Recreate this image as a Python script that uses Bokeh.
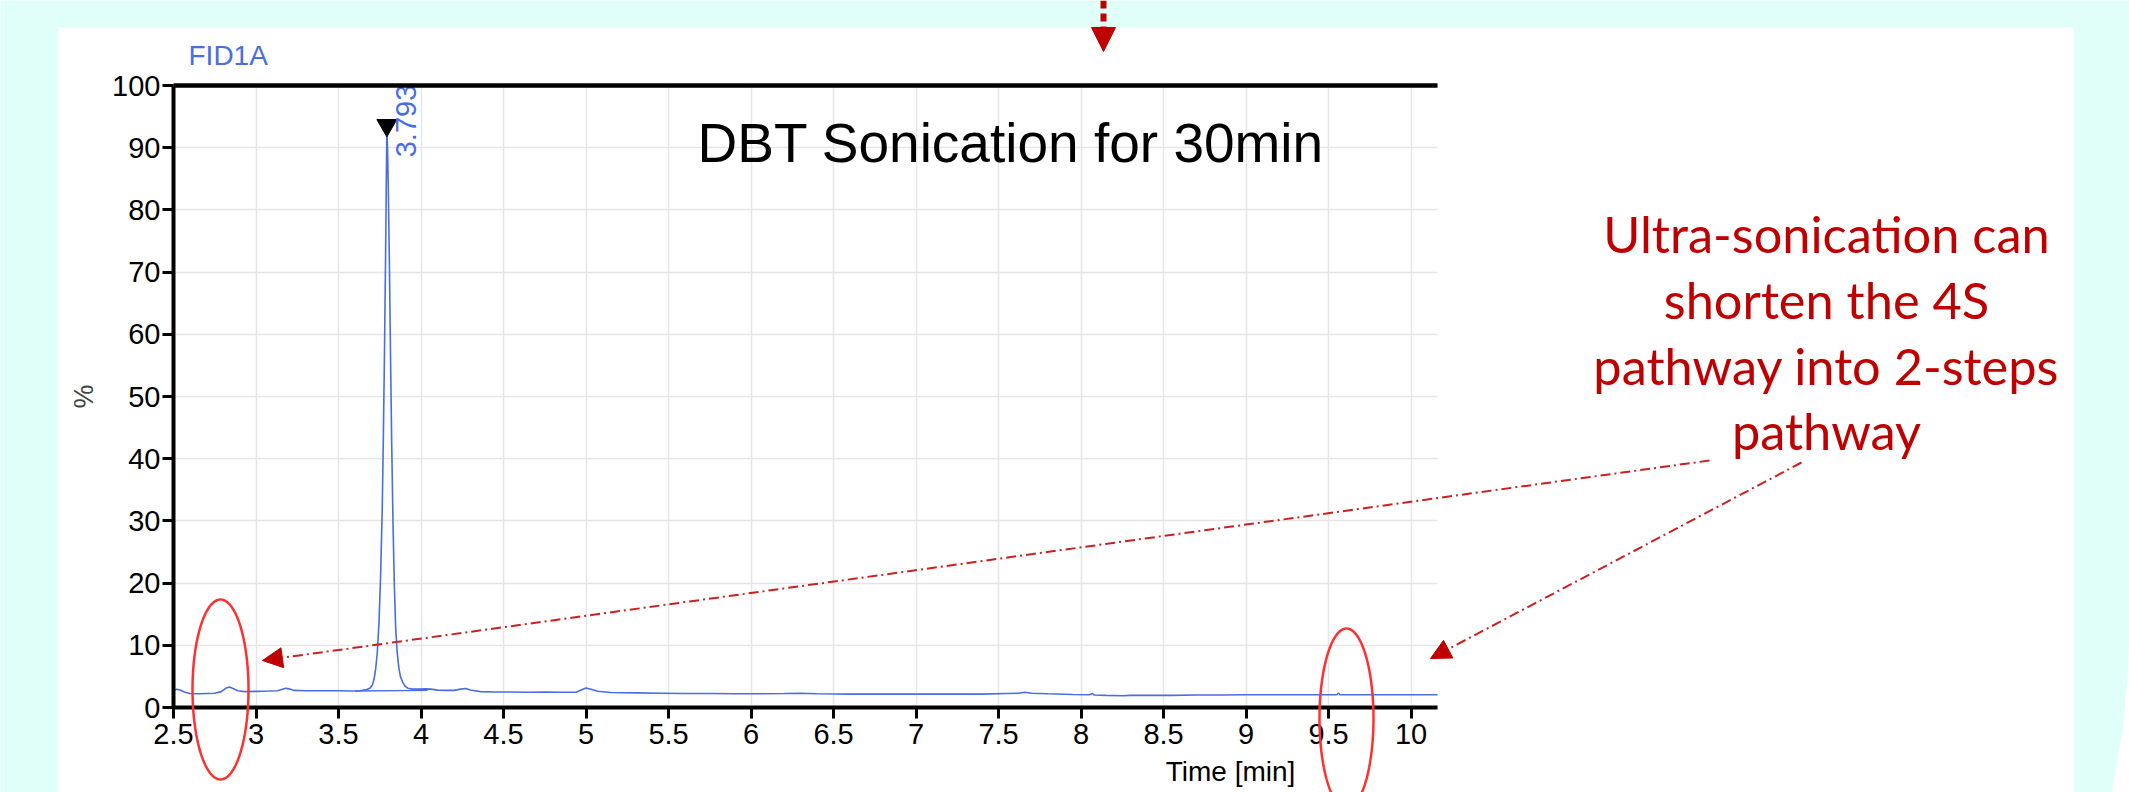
import numpy as np
from bokeh.plotting import figure
from bokeh.models import (Label, Arrow, NormalHead, BoxAnnotation, PolyAnnotation,
                          LinearAxis, Grid, Range1d, FixedTicker, NumeralTickFormatter)
from bokeh.core.properties import value
from bokeh.embed import file_html
from bokeh.resources import INLINE

# ---------------- data ----------------
time_min = [2.50, 2.52, 2.54, 2.57, 2.60, 2.65, 2.70, 2.75, 2.79, 2.82, 2.84, 2.86, 2.89, 2.93,
            3.00, 3.08, 3.13, 3.16, 3.18, 3.20, 3.23, 3.30, 3.40, 3.50, 3.58, 3.63, 3.67, 3.69,
            3.705, 3.715, 3.725, 3.735, 3.745, 3.755, 3.765, 3.772, 3.779, 3.785, 3.789, 3.793,
            3.797, 3.802, 3.808, 3.815, 3.822, 3.830, 3.838, 3.846, 3.855, 3.865, 3.875, 3.89,
            3.905, 3.92, 3.95, 3.99, 4.03, 4.06, 4.10, 4.15, 4.20, 4.24, 4.27, 4.30, 4.36, 4.45,
            4.55, 4.65, 4.75, 4.85, 4.94, 4.97, 5.00, 5.03, 5.07, 5.15, 5.30, 5.45, 5.60, 5.75,
            5.90, 6.05, 6.20, 6.30, 6.40, 6.60, 6.80, 7.00, 7.20, 7.40, 7.55, 7.62, 7.66, 7.70,
            7.80, 7.95, 8.05, 8.07, 8.08, 8.15, 8.25, 8.30, 8.40, 8.55, 8.70, 8.85, 9.00, 9.20,
            9.40, 9.55, 9.56, 9.57, 9.75, 9.90, 10.05, 10.16]
signal_pct = [2.75, 2.95, 2.80, 2.45, 2.25, 2.20, 2.25, 2.30, 2.55, 3.15, 3.30, 3.05, 2.70, 2.55,
              2.60, 2.65, 2.70, 2.95, 3.10, 3.00, 2.75, 2.70, 2.70, 2.70, 2.65, 2.70, 2.90, 3.10,
              3.60, 4.50, 6.20, 8.80, 13.5, 21.0, 32.0, 44.0, 58.0, 72.0, 83.0, 92.6,
              90.0, 83.0, 72.0, 57.0, 43.0, 30.0, 20.0, 13.0, 9.0, 6.5, 5.0, 4.0,
              3.40, 3.10, 2.95, 2.95, 3.00, 2.95, 2.80, 2.75, 2.75, 2.95, 3.05, 2.80, 2.55, 2.50,
              2.50, 2.45, 2.50, 2.45, 2.45, 2.80, 3.15, 2.95, 2.60, 2.40, 2.35, 2.30, 2.25, 2.25,
              2.20, 2.20, 2.25, 2.30, 2.20, 2.15, 2.15, 2.15, 2.15, 2.15, 2.25, 2.30, 2.45, 2.30,
              2.20, 2.10, 2.05, 2.25, 2.00, 1.95, 1.90, 1.95, 1.95, 1.95, 2.00, 2.00, 2.05, 2.05,
              2.05, 2.05, 2.30, 2.05, 2.05, 2.05, 2.05, 2.05]
baseline_time = [3.60, 4.04]
baseline_pct = [2.65, 2.75]
peak_rt = [3.793]
peak_marker_pct = [93.6]
peak_labels = ["3.793"]
x_ticks = [2.5, 3, 3.5, 4, 4.5, 5, 5.5, 6, 6.5, 7, 7.5, 8, 8.5, 9, 9.5, 10]
y_ticks = [0, 10, 20, 30, 40, 50, 60, 70, 80, 90, 100]
channel_name = "FID1A"
chart_title = "DBT Sonication for 30min"
x_label = "Time [min]"
y_label = "%"
note_lines = ["Ultra-sonication can", "shorten the 4S", "pathway into 2-steps", "pathway"]

# ---------------- layout (page pixels) ----------------
W, H = 2129, 792
CH_L, CH_R, CH_T, CH_B = 173, 1437, 85, 707     # chart frame on the page
X0, X1 = 2.5, 10.16
Y0, Y1 = 0, 100

CYAN = "#e0fff8"
BLUE = "#4a6ee2"
DARKRED = "#c00000"
RED = "#ff3030"
FONT = "Liberation Sans"


def xd(px):  # page pixel -> data x
    return X0 + (px - CH_L) * (X1 - X0) / (CH_R - CH_L)


def yd(py):  # page pixel -> data y
    return Y0 + (CH_B - py) * (Y1 - Y0) / (CH_B - CH_T)


p = figure(width=W, height=H, min_border=0,
           x_range=Range1d(xd(0), xd(W)), y_range=Range1d(yd(H), yd(0)),
           x_axis_location=None, y_axis_location=None,
           output_backend="svg", toolbar_location=None,
           background_fill_color=CYAN, border_fill_color=CYAN)
p.outline_line_color = None
p.xgrid.visible = False
p.ygrid.visible = False

# white slide panel
p.add_layout(BoxAnnotation(left=xd(58), right=xd(2073), top=yd(27), bottom=yd(H + 20),
                           fill_color="white", fill_alpha=1, line_color=None, level="image"))
curve_px = [(2140, 628), (2129, 628), (2127, 680), (2122, 730), (2115, 770), (2110, 800), (2140, 800)]
p.add_layout(PolyAnnotation(xs=[xd(a) for a, _ in curve_px], ys=[yd(b) for _, b in curve_px],
                            fill_color="white", fill_alpha=1, line_color=None, level="image"))

# axes
def style_axis(ax):
    ax.axis_line_width = 4
    ax.axis_line_color = "black"
    ax.major_tick_line_width = 3
    ax.major_tick_line_color = "black"
    ax.major_tick_out = 11
    ax.major_tick_in = 0
    ax.minor_tick_line_color = None
    ax.major_label_text_font = FONT
    ax.major_label_text_font_size = "29px"
    ax.major_label_text_color = "black"


xaxis = LinearAxis(fixed_location=Y0, bounds=(X0, X1), ticker=FixedTicker(ticks=x_ticks),
                   formatter=NumeralTickFormatter(format="0.[0]"))
style_axis(xaxis)
xaxis.major_label_standoff = 5
p.add_layout(xaxis, "below")

yaxis = LinearAxis(fixed_location=X0, bounds=(Y0, Y1), ticker=FixedTicker(ticks=y_ticks))
style_axis(yaxis)
yaxis.major_label_standoff = 2
yaxis.axis_label = y_label
yaxis.axis_label_text_font = FONT
yaxis.axis_label_text_font_style = "normal"
yaxis.axis_label_text_font_size = "27px"
yaxis.axis_label_standoff = 10
p.add_layout(yaxis, "left")

top_axis = LinearAxis(fixed_location=Y1, bounds=(X0, X1), ticker=FixedTicker(ticks=[]),
                      axis_line_width=4.5, axis_line_color="black",
                      major_tick_line_color=None, minor_tick_line_color=None,
                      major_label_text_font_size="0px")
p.add_layout(top_axis, "above")

for dim, ticks, b, cb in [(0, x_ticks, (X0, X1), (Y0, Y1)), (1, y_ticks, (Y0, Y1), (X0, X1))]:
    g = Grid(dimension=dim, ticker=FixedTicker(ticks=ticks), bounds=b,
             grid_line_color="#e6e6e6", grid_line_width=1.5)
    g.cross_bounds = cb
    p.add_layout(g)

# chromatogram
p.line(time_min, signal_pct, line_color=BLUE, line_width=1.6)
p.line(baseline_time, baseline_pct, line_color=BLUE, line_width=1.3)
p.scatter(peak_rt, peak_marker_pct, marker="inverted_triangle", size=20,
          fill_color="black", line_color="black")
p.text(peak_rt, peak_marker_pct, text=peak_labels, angle=np.pi / 2,
       x_offset=19, y_offset=32, text_align="left", text_baseline="alphabetic",
       text_font=value(FONT), text_font_size="29px", text_color=BLUE)

# texts (y = visual centre of the capitals)
p.add_layout(Label(x=xd(188), y=yd(55), text=channel_name, text_font=FONT,
                   text_baseline="middle", text_font_size="28px", text_color=BLUE))
p.add_layout(Label(x=xd(697), y=yd(142), text=chart_title, text_font=FONT,
                   text_baseline="middle", text_font_size="55px", text_color="black"))
p.add_layout(Label(x=xd(1230), y=yd(771), text=x_label, text_font=FONT, text_align="center",
                   text_baseline="middle", text_font_size="28px", text_color="black"))
for line, mid in zip(note_lines, [233, 299, 365, 430]):
    p.add_layout(Label(x=xd(1826), y=yd(mid), text=line, text_font="Lato", text_align="center",
                       text_baseline="middle", text_font_size="50.5px", text_color=DARKRED))

# ellipses
th = np.linspace(0, 2 * np.pi, 121)
for cx, cy, w, h in [(220, 689, 56, 180), (1346, 718, 54, 180)]:
    ex = cx + w / 2 * np.cos(th)
    ey = cy + h / 2 * np.sin(th)
    p.add_layout(PolyAnnotation(xs=[xd(v) for v in ex], ys=[yd(v) for v in ey],
                                fill_alpha=0, line_color=RED, line_alpha=1, line_width=2.5))

# arrows
for (sx, sy), (ex_, ey_) in [((1709, 460), (262, 660)), ((1801, 462), (1430, 658))]:
    p.add_layout(Arrow(end=NormalHead(size=20, fill_color=DARKRED, line_color=DARKRED),
                       x_start=xd(sx), y_start=yd(sy), x_end=xd(ex_), y_end=yd(ey_),
                       line_color="#cc2020", line_width=2, line_dash="10 4 2 4"))
p.add_layout(Arrow(end=NormalHead(size=24, fill_color=DARKRED, line_color=DARKRED),
                   x_start=xd(1103), y_start=yd(0), x_end=xd(1103), y_end=yd(51),
                   line_color=DARKRED, line_width=6, line_dash="8 5"))

open("out.html", "w").write(file_html(p, INLINE))
